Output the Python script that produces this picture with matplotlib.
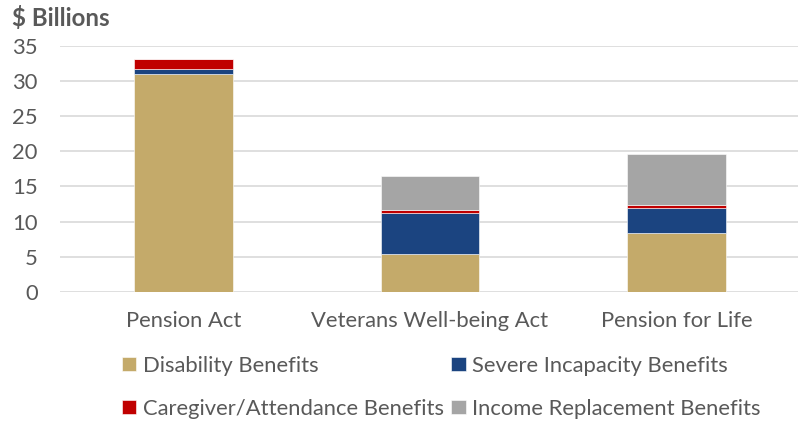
import matplotlib.pyplot as plt
import numpy as np

plt.rcParams['font.family'] = ['Lato', 'DejaVu Sans']

categories = ['Pension Act', 'Veterans Well-being Act', 'Pension for Life']
disability = [31.0, 5.35, 8.4]
severe = [0.7, 5.9, 3.6]
caregiver = [1.4, 0.4, 0.35]
income = [0.0, 4.85, 7.25]

series = ['Disability Benefits', 'Severe Incapacity Benefits',
          'Caregiver/Attendance Benefits', 'Income Replacement Benefits']
colors = ['#C4AA6A', '#1B4480', '#C00000', '#A5A5A5']
txt = '#595959'

fig = plt.figure(figsize=(7.98, 4.26), dpi=100)
ax = fig.add_axes([60 / 798, 1 - 292 / 426, 740 / 798, (292 - 45.7) / 426])

x = np.arange(len(categories))
bottom = np.zeros(len(categories))
handles = []
for vals, name, c in zip([disability, severe, caregiver, income], series, colors):
    b = ax.bar(x, vals, 0.4, bottom=bottom, color=c, edgecolor='white',
               linewidth=0.4, label=name, zorder=3)
    handles.append(b)
    bottom += np.array(vals)

ax.set_xlim(-0.5, 2.5)
ax.set_ylim(0, 35)
ax.set_yticks(range(0, 36, 5))
ax.grid(axis='y', color='#D9D9D9', linewidth=1.2, zorder=0)
for s in ax.spines.values():
    s.set_visible(False)
ax.tick_params(axis='both', length=0, labelsize=15.8, colors=txt)
ax.tick_params(axis='y', pad=16)
ax.tick_params(axis='x', pad=14)
ax.set_xticks(x)
ax.set_xticklabels(categories)

fig.text(12 / 798, 1 - 18 / 426, '$ Billions', fontsize=17.3, fontweight='bold',
         color=txt, va='center', ha='left')

order = [0, 2, 1, 3]
leg = fig.legend([handles[i] for i in order], [series[i] for i in order],
                 ncol=2, loc='upper left', bbox_to_anchor=(113 / 798, 1 - 347 / 426),
                 frameon=False, fontsize=15.8, labelcolor=txt,
                 handlelength=0.65, handleheight=0.65, handletextpad=0.3,
                 columnspacing=0.35, labelspacing=1.05, borderaxespad=0)

fig.savefig('out.png', dpi=100)
